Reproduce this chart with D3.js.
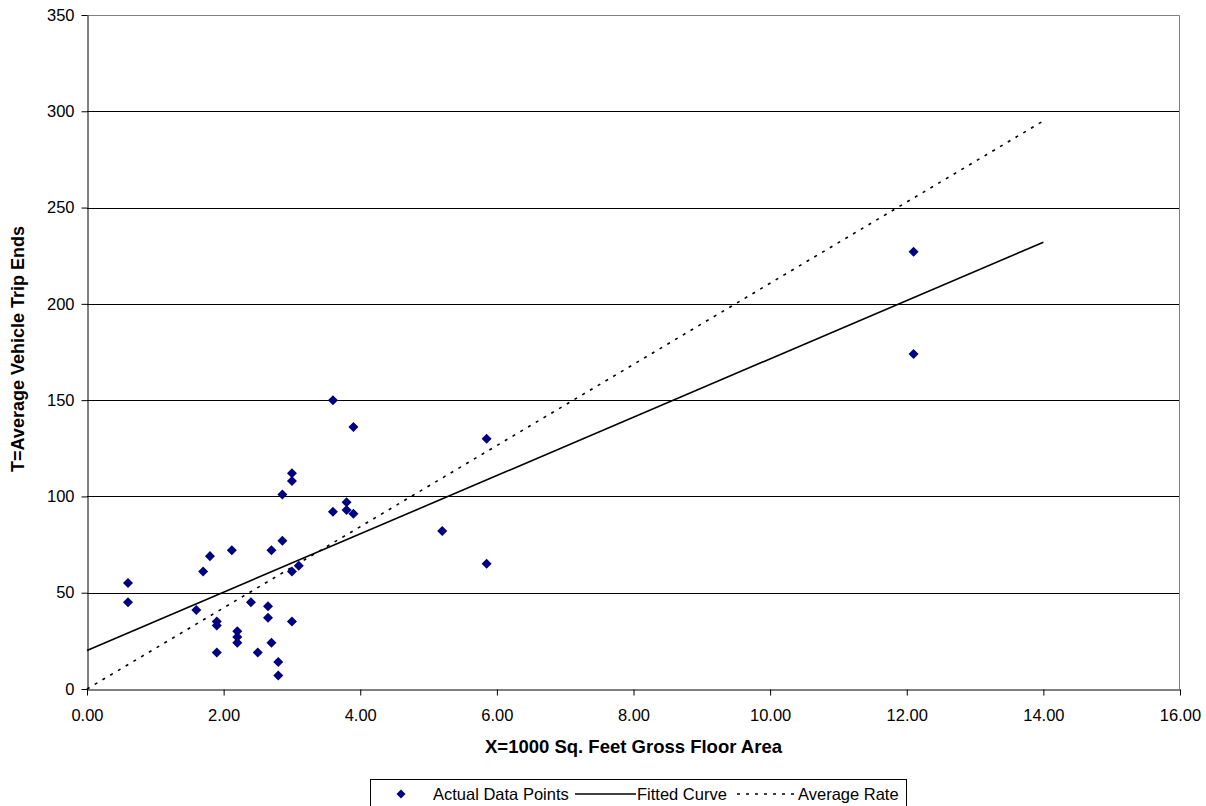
<!DOCTYPE html>
<html>
<head>
<meta charset="utf-8">
<script src="https://cdn.jsdelivr.net/npm/d3@7"></script>
<style>
  body { margin: 0; background: #fff; }
  text { font-family: Arial, "Liberation Sans", sans-serif; }
</style>
</head>
<body>
<div id="chart"></div>
<script>
// data
var areaX = [0.6, 0.6, 1.6, 1.7, 1.8, 1.9, 1.9, 1.9, 2.12, 2.2, 2.2, 2.2, 2.4, 2.5, 2.65, 2.65, 2.7, 2.7, 2.8, 2.8,
             2.86, 2.86, 3.0, 3.0, 3.0, 3.1, 3.0, 3.6, 3.6, 3.8, 3.8, 3.9, 3.9, 5.2, 5.85, 5.85, 12.1, 12.1];
var tripsY = [55, 45, 41, 61, 69, 35, 33, 19, 72, 30, 27, 24, 45, 19, 43, 37, 72, 24, 14, 7,
              77, 101, 112, 108, 61, 64, 35, 150, 92, 97, 93, 91, 136, 82, 130, 65, 227, 174];
var fittedX = [0, 14];
var fittedY = [20, 232];
var avgX = [0, 14];
var avgY = [0, 295];
var xTicks = [0, 2, 4, 6, 8, 10, 12, 14, 16];
var yTicks = [0, 50, 100, 150, 200, 250, 300, 350];
var legendLabels = ["Actual Data Points", "Fitted Curve", "Average Rate"];

var W = 1206, H = 806;
var margin = {top: 15, right: 26, bottom: 117, left: 87},
    width = W - margin.left - margin.right,
    height = H - margin.top - margin.bottom;

var svg = d3.select("#chart").append("svg")
    .attr("width", W)
    .attr("height", H);
var g = svg.append("g")
    .attr("transform", "translate(" + margin.left + "," + margin.top + ")");

var x = d3.scaleLinear().domain([0, 16]).range([0, width]);
var y = d3.scaleLinear().domain([0, 350]).range([height, 0]);

// gridlines
g.append("g")
  .selectAll("line")
  .data(yTicks.filter(function(d){ return d > 0 && d < 350; }))
  .enter().append("line")
    .attr("x1", 0).attr("x2", width)
    .attr("y1", function(d){ return Math.round(y(d)) + 0.5; })
    .attr("y2", function(d){ return Math.round(y(d)) + 0.5; })
    .attr("stroke", "#000")
    .attr("stroke-width", 1);

// top and right border (grey)
g.append("path")
  .attr("d", "M0.5,0.5H" + (width - 0.5) + "V" + height)
  .attr("fill", "none")
  .attr("stroke", "#808080");

// axes
var xAxis = g.append("g")
  .attr("transform", "translate(0," + (height + 0.5) + ")")
  .call(d3.axisBottom(x).tickValues(xTicks).tickSize(6).tickSizeOuter(0)
        .tickFormat(function(d){ return d.toFixed(2); }));
var yAxis = g.append("g")
  .attr("transform", "translate(0.5,0)")
  .call(d3.axisLeft(y).tickValues(yTicks).tickSize(6).tickSizeOuter(0));

[xAxis, yAxis].forEach(function(a) {
  a.select(".domain").attr("stroke", "#000");
  a.selectAll(".tick line").attr("stroke", "#000");
  a.selectAll(".tick text")
    .attr("font-size", 16.5)
    .attr("font-family", "Arial, 'Liberation Sans', sans-serif")
    .attr("fill", "#000");
});
xAxis.selectAll(".tick text").attr("y", 20).attr("dy", "0.71em");
yAxis.selectAll(".tick text").attr("x", -13);

// axis titles
svg.append("text")
  .attr("x", margin.left + width / 2)
  .attr("y", 753)
  .attr("text-anchor", "middle")
  .attr("font-size", 18.5)
  .attr("font-weight", "bold")
  .text("X=1000 Sq. Feet Gross Floor Area");

svg.append("text")
  .attr("transform", "translate(24,349) rotate(-90)")
  .attr("text-anchor", "middle")
  .attr("font-size", 18)
  .attr("font-weight", "bold")
  .text("T=Average Vehicle Trip Ends");

// lines
var line = d3.line()
  .x(function(d){ return x(d[0]); })
  .y(function(d){ return y(d[1]); });

g.append("path")
  .datum(d3.zip(fittedX, fittedY))
  .attr("d", line)
  .attr("fill", "none")
  .attr("stroke", "#000")
  .attr("stroke-width", 1.6);

g.append("path")
  .datum(d3.zip(avgX, avgY))
  .attr("d", line)
  .attr("fill", "none")
  .attr("stroke", "#000")
  .attr("stroke-width", 1.6)
  .attr("stroke-dasharray", "3,6");

// points
var diamond = d3.symbol().type(d3.symbolDiamond2).size(64);
g.append("g")
  .selectAll("path")
  .data(d3.zip(areaX, tripsY))
  .enter().append("path")
    .attr("d", diamond)
    .attr("transform", function(d){ return "translate(" + x(d[0]) + "," + y(d[1]) + ")"; })
    .attr("fill", "#000080");

// legend
var leg = svg.append("g").attr("transform", "translate(370,779)");
leg.append("rect")
  .attr("x", 0.5).attr("y", 0.5)
  .attr("width", 536).attr("height", 27)
  .attr("fill", "#fff")
  .attr("stroke", "#000");

leg.append("path")
  .attr("d", d3.symbol().type(d3.symbolDiamond2).size(52))
  .attr("transform", "translate(31,15)")
  .attr("fill", "#000080");
leg.append("text").attr("x", 63).attr("y", 20.5).attr("font-size", 16.5).text(legendLabels[0]);

leg.append("line")
  .attr("x1", 205).attr("x2", 266).attr("y1", 15).attr("y2", 15)
  .attr("stroke", "#000").attr("stroke-width", 1.4);
leg.append("text").attr("x", 267).attr("y", 20.5).attr("font-size", 16.5).text(legendLabels[1]);

leg.append("line")
  .attr("x1", 367).attr("x2", 427).attr("y1", 15).attr("y2", 15)
  .attr("stroke", "#000").attr("stroke-width", 1.4)
  .attr("stroke-dasharray", "3,6");
leg.append("text").attr("x", 428).attr("y", 20.5).attr("font-size", 16.5).text(legendLabels[2]);
</script>
</body>
</html>
